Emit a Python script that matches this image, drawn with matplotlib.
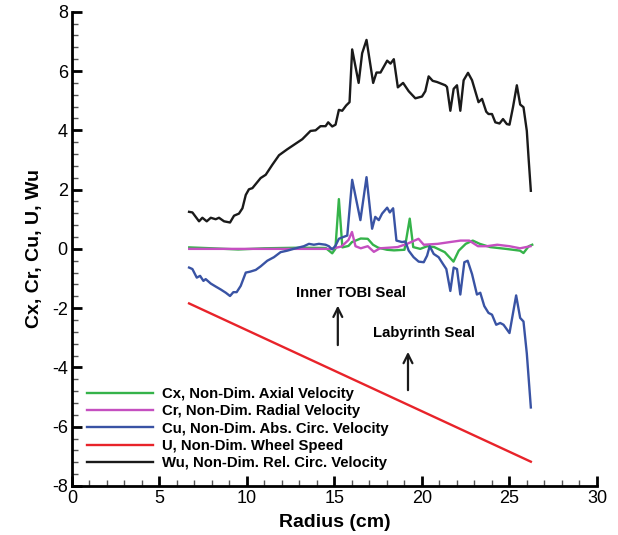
import numpy as np
import matplotlib
matplotlib.use("Agg")
import matplotlib.pyplot as plt
from matplotlib.ticker import MultipleLocator

plt.rcParams['font.family'] = ['Liberation Sans', 'DejaVu Sans']
plt.rcParams['axes.unicode_minus'] = False

# Wu, non-dim. relative circumferential velocity
r_wu = [6.69, 6.88, 7.26, 7.45, 7.70, 7.93, 8.21, 8.40, 8.69, 9.03, 9.26, 9.54, 9.74,
        9.93, 10.11, 10.31, 10.78, 11.07, 11.45, 11.83, 12.30, 12.78, 13.16, 13.63,
        13.92, 14.20, 14.49, 14.64, 14.87, 15.06, 15.25, 15.44, 15.67, 15.86, 16.01,
        16.38, 16.58, 16.83, 17.21, 17.40, 17.63, 18.01, 18.20, 18.39, 18.62, 18.92,
        19.24, 19.62, 20.00, 20.19, 20.38, 20.61, 20.86, 21.33, 21.43, 21.62, 21.81,
        22.00, 22.19, 22.38, 22.63, 22.86, 23.23, 23.43, 23.67, 23.80, 24.00, 24.19,
        24.43, 24.63, 24.85, 25.00, 25.20, 25.42, 25.61, 25.80, 25.99, 26.09, 26.22]
wu = [1.25, 1.23, 0.93, 1.05, 0.93, 1.05, 1.00, 1.05, 0.93, 0.89, 1.12, 1.19, 1.37,
      1.82, 2.01, 2.05, 2.39, 2.50, 2.84, 3.16, 3.36, 3.55, 3.70, 3.98,
      4.00, 4.14, 4.14, 4.27, 4.13, 4.19, 4.69, 4.66, 4.84, 4.95, 6.73,
      5.60, 6.60, 7.05, 5.60, 5.95, 5.95, 6.35, 6.25, 6.40, 5.45, 5.60,
      5.32, 5.08, 5.14, 5.32, 5.82, 5.67, 5.63, 5.52, 5.46, 4.66, 5.40,
      5.52, 4.66, 5.69, 5.94, 5.69, 4.95, 5.06, 4.63, 4.55, 4.55, 4.27,
      4.23, 4.38, 4.21, 4.19, 4.78, 5.52, 4.87, 4.78, 3.98, 3.07, 1.96]

# Cu, non-dim. absolute circumferential velocity
r_cu = [6.69, 6.88, 7.13, 7.32, 7.51, 7.64, 7.93, 8.21, 8.50, 8.79, 9.03, 9.22, 9.41,
        9.64, 9.93, 10.17, 10.50, 10.78, 11.16, 11.54, 11.92, 12.30, 12.78, 13.25,
        13.54, 13.82, 14.11, 14.49, 14.68, 14.87, 15.06, 15.25, 15.50, 15.73, 16.01,
        16.48, 16.83, 17.15, 17.33, 17.53, 17.72, 18.01, 18.16, 18.35, 18.54, 18.86,
        19.05, 19.24, 19.52, 19.81, 20.10, 20.29, 20.44, 20.67, 20.95, 21.20, 21.39,
        21.62, 21.81, 22.00, 22.19, 22.42, 22.61, 22.86, 23.14, 23.33, 23.56, 23.80,
        24.00, 24.24, 24.47, 24.66, 25.00, 25.38, 25.61, 25.80, 25.99, 26.22]
cu = [-0.63, -0.68, -0.97, -0.91, -1.08, -1.02, -1.17, -1.27, -1.37, -1.48, -1.59, -1.46, -1.46,
      -1.25, -0.80, -0.77, -0.71, -0.59, -0.40, -0.28, -0.11, -0.06, 0.02, 0.09,
      0.17, 0.14, 0.17, 0.14, 0.09, -0.02, 0.11, 0.34, 0.40, 0.45, 2.33,
      0.97, 2.42, 0.68, 1.08, 0.97, 1.19, 1.39, 1.23, 1.37, 0.28, 0.23,
      0.25, -0.06, -0.28, -0.43, -0.45, -0.23, 0.09, -0.17, -0.28, -0.51, -0.68,
      -1.42, -0.63, -0.68, -1.54, -0.45, -0.40, -0.85, -1.54, -1.48, -1.93, -2.16,
      -2.22, -2.56, -2.50, -2.56, -2.84, -1.57, -2.33, -2.45, -3.53, -5.35]

# Cx, non-dim. axial velocity
r_cx = [6.7, 8.0, 9.5, 11.0, 13.0, 14.5, 14.87, 15.05, 15.25, 15.45, 15.8, 16.0, 16.5,
        16.9, 17.2, 17.5, 18.0, 18.4, 19.0, 19.3, 19.5, 19.9, 20.3, 20.7, 21.3, 21.8,
        22.1, 22.5, 22.9, 23.3, 23.9, 24.8, 25.6, 25.8, 26.1, 26.3]
cx = [0.05, 0.02, -0.02, 0.02, 0.04, 0.03, -0.15, 0.0, 1.68, 0.05, 0.10, 0.23, 0.35,
      0.34, 0.14, 0.04, -0.03, -0.05, -0.03, 1.02, 0.06, 0.0, 0.09, 0.06, -0.11, -0.43,
      -0.06, 0.17, 0.28, 0.17, 0.06, 0.0, -0.06, -0.14, 0.09, 0.14]

# Cr, non-dim. radial velocity
r_cr = [6.7, 9.0, 12.0, 14.8, 15.4, 15.8, 16.0, 16.2, 16.5, 16.9, 17.25, 17.6, 18.6,
        19.15, 19.8, 20.1, 20.9, 21.6, 22.2, 22.7, 23.2, 23.7, 24.3, 25.0, 25.6, 26.2]
cr = [0.0, 0.0, 0.0, 0.0, 0.08, 0.3, 0.57, 0.09, 0.02, 0.09, -0.10, 0.02, 0.06,
      0.17, 0.34, 0.14, 0.17, 0.23, 0.28, 0.28, 0.09, 0.09, 0.14, 0.09, 0.02, 0.09]

# U, non-dim. wheel speed
r_u = [6.69, 26.22]
u = [-1.84, -7.18]

fig = plt.figure(figsize=(6.18, 5.35), dpi=100)
ax = fig.add_axes([0.1165, 0.0916, 0.8495, 0.8864])

lw = 1.7
ax.plot(r_cx, cx, color='#35b34a', lw=lw, label='Cx, Non-Dim. Axial Velocity')
ax.plot(r_cr, cr, color='#c54fc0', lw=lw, label='Cr, Non-Dim. Radial Velocity')
ax.plot(r_cu, cu, color='#3953a4', lw=lw, label='Cu, Non-Dim. Abs. Circ. Velocity')
ax.plot(r_u, u, color='#e8232a', lw=lw, label='U, Non-Dim. Wheel Speed')
ax.plot(r_wu, wu, color='#1a1a1a', lw=lw, label='Wu, Non-Dim. Rel. Circ. Velocity')

ax.set_xlim(0, 30)
ax.set_ylim(-8, 8)
ax.xaxis.set_major_locator(MultipleLocator(5))
ax.xaxis.set_minor_locator(MultipleLocator(1))
ax.yaxis.set_major_locator(MultipleLocator(2))
ax.yaxis.set_minor_locator(MultipleLocator(0.4))
ax.tick_params(which='major', direction='in', length=7, width=2, labelsize=13, pad=3)
ax.tick_params(which='minor', direction='in', length=4, width=1, color='#555555')
ax.spines['top'].set_visible(False)
ax.spines['right'].set_visible(False)
ax.spines['left'].set_linewidth(2)
ax.spines['bottom'].set_linewidth(2)

ax.set_xlabel('Radius (cm)', fontsize=14, fontweight='bold', labelpad=5)
ax.set_ylabel('Cx, Cr, Cu, U, Wu', fontsize=14, fontweight='bold', labelpad=6)

# seal annotations
ax.annotate('', xy=(15.19, -1.82), xytext=(15.19, -3.34),
            arrowprops=dict(arrowstyle='->', color='#1a1a1a', lw=1.6, mutation_scale=16))
ax.text(15.94, -1.49, 'Inner TOBI Seal', ha='center', va='center', fontsize=10.7, fontweight='bold')
ax.annotate('', xy=(19.2, -3.38), xytext=(19.2, -4.86),
            arrowprops=dict(arrowstyle='->', color='#1a1a1a', lw=1.6, mutation_scale=16))
ax.text(20.1, -2.84, 'Labyrinth Seal', ha='center', va='center', fontsize=10.7, fontweight='bold')

leg = ax.legend(loc='upper left', bbox_to_anchor=(0.0176, 0.221), frameon=False,
                prop={'size': 10.7, 'weight': 'bold'}, handlelength=4.45,
                handletextpad=0.6, labelspacing=0.22, borderaxespad=0)

fig.savefig('out.png', dpi=100)
